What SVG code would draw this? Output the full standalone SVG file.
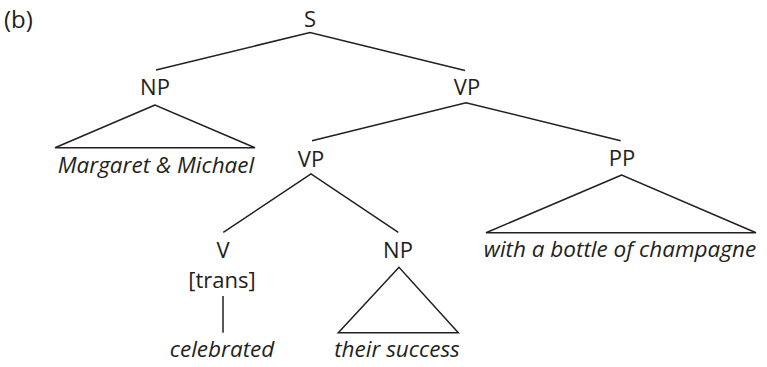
<svg xmlns="http://www.w3.org/2000/svg" width="767" height="367" viewBox="0 0 767 367">
  <style>
    text { font-family: "Open Sans", "Noto Sans", "DejaVu Sans", sans-serif; font-size: 22px; fill: #231f20; }
    .cat { text-anchor: middle; }
    .word { text-anchor: middle; font-style: italic; font-size: 22.5px; }
    .edge { stroke: #231f20; stroke-width: 1.5; fill: none; stroke-linejoin: miter; }
  </style>
  <rect width="767" height="367" fill="#ffffff"/>
  <text id="label" x="4" y="28" style="font-size:24px">(b)</text>

  <!-- tree branches -->
  <g id="connectors">
    <polyline class="edge" points="156,70 310,32.5 465,70.5"/>
    <polygon class="edge" points="155,105 55,147.7 255,147.7"/>
    <polyline class="edge" points="312,140.7 466,102.7 620.7,140.7"/>
    <polygon class="edge" points="621.7,175 486,232.7 756,232.7"/>
    <polyline class="edge" points="223.3,232.3 311,174 398.3,232.3"/>
    <line class="edge" x1="223" y1="296" x2="223" y2="332.7"/>
    <polygon class="edge" points="399,267.3 338.3,332.7 458.3,332.7"/>
  </g>

  <g id="S"><text class="cat" x="310" y="27">S</text></g>
  <g id="NP-subj">
    <text class="cat" x="155" y="95">NP</text>
    <text class="word" x="156" y="173">Margaret &amp; Michael</text>
  </g>
  <g id="VP-top"><text class="cat" x="467" y="95">VP</text></g>
  <g id="VP-inner"><text class="cat" x="311" y="167">VP</text></g>
  <g id="PP">
    <text class="cat" x="622" y="166">PP</text>
    <text class="word" x="620" y="257">with a bottle of champagne</text>
  </g>
  <g id="V">
    <text class="cat" x="223" y="258">V</text>
    <text class="cat" x="222" y="288">[trans]</text>
    <text class="word" x="222" y="357">celebrated</text>
  </g>
  <g id="NP-obj">
    <text class="cat" x="398" y="258">NP</text>
    <text class="word" x="397" y="357">their success</text>
  </g>
</svg>
